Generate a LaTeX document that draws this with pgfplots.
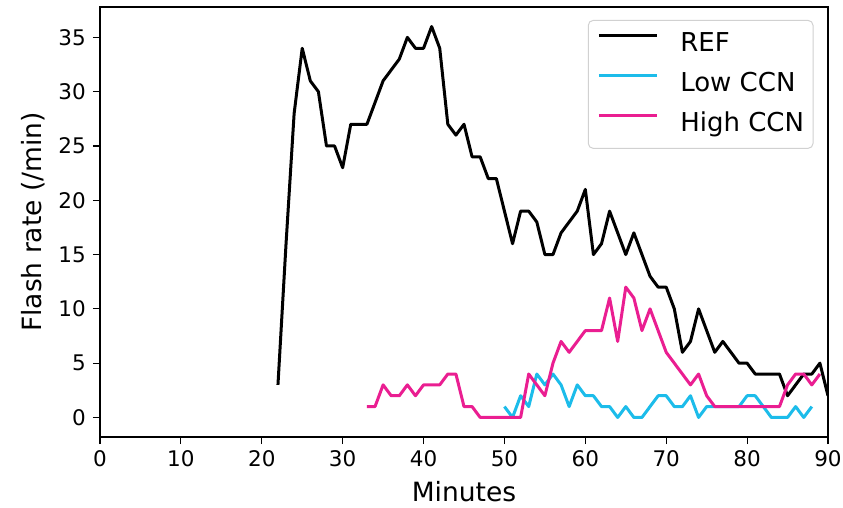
\documentclass[border=0pt]{standalone}
\usepackage{pgfplots}
\pgfplotsset{compat=1.18}
\usepackage{fontspec}
\setmainfont{DejaVu Sans}
\definecolor{lowc}{RGB}{28,188,234}
\definecolor{highc}{RGB}{234,30,145}
\newcommand\tickfont{\fontsize{21.5}{25}\selectfont}
\newcommand\labfont{\fontsize{26.5}{31}\selectfont}
\newcommand\legfont{\fontsize{26}{30}\selectfont}
\begin{document}
\begin{tikzpicture}
\begin{axis}[
  scale only axis, width=728pt, height=430pt,
  xmin=0, xmax=90, ymin=-1.8, ymax=37.8,
  xtick={0,10,...,90}, ytick={0,5,...,35},
  tick pos=left, tick align=outside, major tick length=7pt,
  axis line style={line width=1.2pt},
  every tick/.style={black, line width=1.2pt},
  /pgf/number format/assume math mode=true,
  ticklabel style={font=\tickfont},
  xticklabel style={inner sep=0pt, anchor=north, yshift=-6pt},
  yticklabel style={inner sep=0pt, anchor=east, xshift=-7pt},
  xlabel={Minutes}, ylabel={Flash rate (/min)},
  label style={font=\labfont},
  xlabel style={at={(axis description cs:0.5,0)}, anchor=base, yshift=-65pt},
  ylabel style={at={(axis description cs:-0.092,0.5)}, anchor=center},
  legend cell align=left,
  legend image code/.code={\draw[#1] (0pt,9pt) -- (58pt,9pt);},
  legend style={at={(axis description cs:0.670,0.970)}, anchor=north west,
    draw=black!18, line width=1pt, rounded corners=5pt, fill=white,
    inner xsep=9pt, inner ysep=12pt, font=\legfont,
    nodes={inner sep=0pt, text height=19pt, text depth=5pt},
    row sep=16pt, /tikz/every odd column/.style={column sep=22pt}},
  every axis plot/.append style={line width=3pt, line join=round},
]
\addplot[black] coordinates {
(22,3)(23,16)(24,28)(25,34)(26,31)(27,30)(28,25)(29,25)(30,23)(31,27)
(32,27)(33,27)(34,29)(35,31)(36,32)(37,33)(38,35)(39,34)(40,34)(41,36)
(42,34)(43,27)(44,26)(45,27)(46,24)(47,24)(48,22)(49,22)(50,19)(51,16)
(52,19)(53,19)(54,18)(55,15)(56,15)(57,17)(58,18)(59,19)(60,21)(61,15)
(62,16)(63,19)(64,17)(65,15)(66,17)(67,15)(68,13)(69,12)(70,12)(71,10)
(72,6)(73,7)(74,10)(75,8)(76,6)(77,7)(78,6)(79,5)(80,5)(81,4)
(82,4)(83,4)(84,4)(85,2)(86,3)(87,4)(88,4)(89,5)(90,2)};
\addlegendentry{REF}
\addplot[lowc] coordinates {
(50,1)(51,0)(52,2)(53,1)(54,4)(55,3)(56,4)(57,3)(58,1)(59,3)
(60,2)(61,2)(62,1)(63,1)(64,0)(65,1)(66,0)(67,0)(68,1)(69,2)
(70,2)(71,1)(72,1)(73,2)(74,0)(75,1)(76,1)(77,1)(78,1)(79,1)
(80,2)(81,2)(82,1)(83,0)(84,0)(85,0)(86,1)(87,0)(88,1)};
\addlegendentry{Low CCN}
\addplot[highc] coordinates {
(33,1)(34,1)(35,3)(36,2)(37,2)(38,3)(39,2)(40,3)(41,3)(42,3)
(43,4)(44,4)(45,1)(46,1)(47,0)(48,0)(49,0)(50,0)(51,0)(52,0)
(53,4)(54,3)(55,2)(56,5)(57,7)(58,6)(59,7)(60,8)(61,8)(62,8)
(63,11)(64,7)(65,12)(66,11)(67,8)(68,10)(69,8)(70,6)(71,5)(72,4)
(73,3)(74,4)(75,2)(76,1)(77,1)(78,1)(79,1)(80,1)(81,1)(82,1)
(83,1)(84,1)(85,3)(86,4)(87,4)(88,3)(89,4)};
\addlegendentry{High CCN}
\end{axis}
\pgfresetboundingbox
\path[use as bounding box] ([xshift=-100pt,yshift=-71pt]current axis.south west) rectangle ([xshift=15pt,yshift=7pt]current axis.north east);
\end{tikzpicture}
\end{document}
